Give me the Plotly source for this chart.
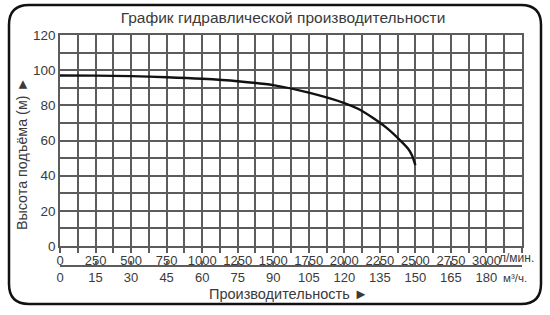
import plotly.graph_objects as go

# ---- data ----
flow_lpm = [0, 250, 500, 750, 1000, 1250, 1500, 1750, 2000, 2100, 2200, 2300, 2400, 2450, 2475, 2500]
head_m = [97.0, 96.9, 96.6, 96.0, 95.1, 93.7, 91.5, 87.2, 81.3, 77.9, 72.9, 67.0, 59.5, 55.2, 51.8, 46.0]

x_lpm_ticks = [0, 250, 500, 750, 1000, 1250, 1500, 1750, 2000, 2250, 2500, 2750, 3000]
x_m3h_ticks = [0, 15, 30, 45, 60, 75, 90, 105, 120, 135, 150, 165, 180]
y_ticks = [0, 20, 40, 60, 80, 100, 120]

title_text = "График гидравлической производительности"
y_title = "Высота подъёма (м) ►"
x_title = "Производительность ►"
unit_lpm = "л/мин."
unit_m3h = "м³/ч."

# ---- layout geometry (pixels) ----
W, H = 550, 315
L, R, T, B = 60, 28, 35, 49
PW, PH = W - L - R, H - T - B
plot_bottom_px = 246
FONT = "Liberation Sans, Arial, sans-serif"
GRID = "#5c5c5c"
TXT = "#3a3a3a"

def px_x(px):
    return (px - L) / PW

def px_y(py):
    return (H - B - py) / PH

ydom0 = px_y(plot_bottom_px)

fig = go.Figure()
fig.add_trace(go.Scatter(
    x=flow_lpm, y=head_m, mode="lines",
    line=dict(color="#111111", width=2.4, shape="spline", smoothing=0.8),
    showlegend=False, hoverinfo="skip"))
# invisible trace to activate second x axis
fig.add_trace(go.Scatter(x=[0], y=[0], xaxis="x2", mode="markers",
                         marker=dict(opacity=0), showlegend=False, hoverinfo="skip"))

fig.update_layout(
    width=W, height=H,
    margin=dict(l=L, r=R, t=T, b=B, pad=0),
    paper_bgcolor="white", plot_bgcolor="white",
    font=dict(family=FONT, color=TXT, size=13),
    title=dict(text=title_text, x=283 / W, xref="container", xanchor="center",
               y=1 - 18 / H, yref="container", yanchor="middle",
               font=dict(size=15.5, color=TXT, family=FONT)),
    xaxis=dict(range=[0, 3250], tickvals=x_lpm_ticks, ticks="outside", ticklen=5,
               tickcolor=GRID, tickwidth=1.5, ticklabelstandoff=-3,
               showgrid=True, gridcolor=GRID, gridwidth=1.5,
               minor=dict(dtick=125, showgrid=True, gridcolor=GRID, gridwidth=1.5,
                          ticks="outside", ticklen=5, tickcolor=GRID, tickwidth=1.5),
               showline=True, linecolor=GRID, linewidth=1.5, mirror=True,
               zeroline=False, anchor="y", tickfont=dict(size=13, color=TXT)),
    xaxis2=dict(range=[0, 195], tickvals=x_m3h_ticks, ticks="inside", ticklen=4,
                tickcolor=GRID, tickwidth=1.5, showgrid=False,
                showline=True, linecolor=GRID, linewidth=1.5,
                anchor="free", position=0, overlaying="x", side="bottom",
                zeroline=False, tickfont=dict(size=13, color=TXT)),
    yaxis=dict(range=[0, 120], tickvals=y_ticks, domain=[ydom0, 1], ticks="",
               showgrid=True, gridcolor=GRID, gridwidth=1.5,
               minor=dict(dtick=10, showgrid=True, gridcolor=GRID, gridwidth=1.5),
               showline=True, linecolor=GRID, linewidth=1.5, mirror=True,
               zeroline=False, tickfont=dict(size=13.5, color=TXT)),
)

ann = [
    dict(text=unit_lpm, x=px_x(497), y=px_y(258), xanchor="left", yanchor="middle",
         font=dict(size=12, color=TXT)),
    dict(text=unit_m3h, x=px_x(501), y=px_y(278), xanchor="left", yanchor="middle",
         font=dict(size=11.5, color=TXT)),
    dict(text=x_title, x=px_x(288), y=px_y(294), xanchor="center", yanchor="middle",
         font=dict(size=14.5, color=TXT)),
    dict(text=y_title, x=px_x(22), y=px_y(154), xanchor="center", yanchor="middle",
         textangle=-90, font=dict(size=14.3, color=TXT)),
]
for a in ann:
    a.update(xref="paper", yref="paper", showarrow=False)
fig.update_layout(annotations=ann)

# rounded outer frame
fx0, fx1, fy0, fy1, rad = 9, 541, 5, 304, 20
def P(x, y):
    return f"{px_x(x):.5f},{px_y(y):.5f}"
path = (f"M {P(fx0 + rad, fy0)} L {P(fx1 - rad, fy0)} Q {P(fx1, fy0)} {P(fx1, fy0 + rad)} "
        f"L {P(fx1, fy1 - rad)} Q {P(fx1, fy1)} {P(fx1 - rad, fy1)} "
        f"L {P(fx0 + rad, fy1)} Q {P(fx0, fy1)} {P(fx0, fy1 - rad)} "
        f"L {P(fx0, fy0 + rad)} Q {P(fx0, fy0)} {P(fx0 + rad, fy0)} Z")
fig.add_shape(type="path", path=path, xref="paper", yref="paper",
              line=dict(color="#111111", width=2.5))

fig.write_html("out.html")
